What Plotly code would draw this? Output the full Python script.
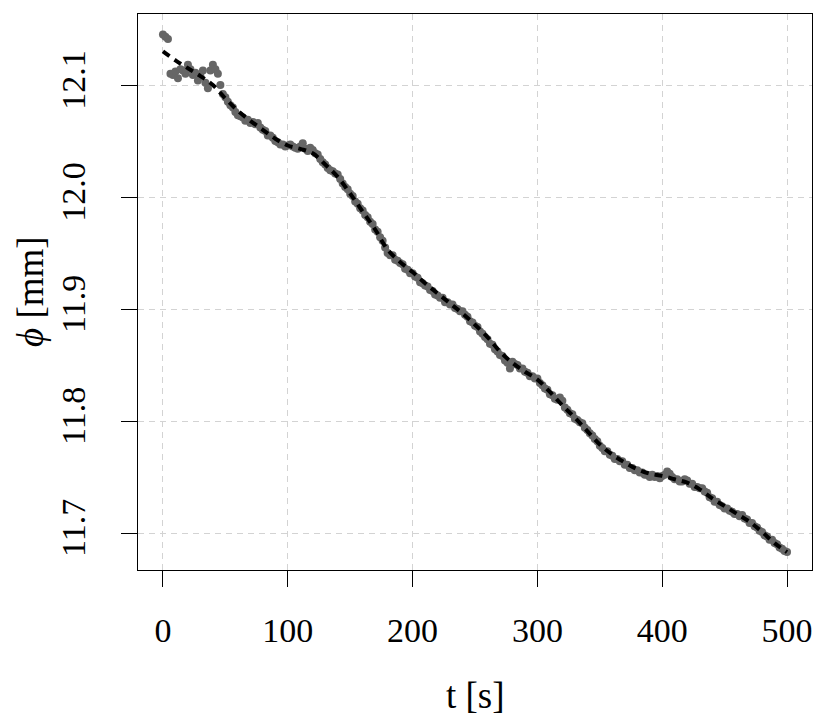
import plotly.graph_objects as go

# Measured data (t in seconds, phi in mm), one reading every 2 s
t_obs = list(range(0, 501, 2))
phi_obs = [
    12.145, 12.143, 12.141, 12.110, 12.109, 12.112, 12.106, 12.114, 12.113, 12.110,
    12.118, 12.114, 12.109, 12.111, 12.104, 12.108, 12.113, 12.102, 12.097, 12.113,
    12.118, 12.114, 12.110, 12.100, 12.092, 12.089, 12.085, 12.082, 12.080, 12.076,
    12.073, 12.072, 12.071, 12.068, 12.069, 12.066, 12.067, 12.065, 12.066, 12.062,
    12.060, 12.059, 12.055, 12.055, 12.053, 12.050, 12.049, 12.047, 12.047, 12.045,
    12.046, 12.047, 12.045, 12.044, 12.043, 12.045, 12.048, 12.043, 12.041, 12.044,
    12.042, 12.039, 12.038, 12.034, 12.031, 12.029, 12.026, 12.024, 12.023, 12.021,
    12.020, 12.016, 12.012, 12.009, 12.007, 12.003, 12.001, 11.996, 11.994, 11.990,
    11.988, 11.984, 11.982, 11.978, 11.976, 11.971, 11.969, 11.964, 11.961, 11.955,
    11.950, 11.948, 11.948, 11.944, 11.943, 11.941, 11.940, 11.936, 11.935, 11.932,
    11.932, 11.929, 11.928, 11.924, 11.923, 11.921, 11.920, 11.917, 11.916, 11.913,
    11.912, 11.910, 11.910, 11.906, 11.906, 11.904, 11.904, 11.901, 11.900, 11.898,
    11.898, 11.895, 11.893, 11.889, 11.888, 11.885, 11.884, 11.880, 11.878, 11.875,
    11.873, 11.869, 11.868, 11.864, 11.862, 11.859, 11.858, 11.854, 11.852, 11.847,
    11.853, 11.851, 11.850, 11.847, 11.847, 11.844, 11.843, 11.840, 11.840, 11.838,
    11.838, 11.834, 11.832, 11.829, 11.828, 11.824, 11.823, 11.820, 11.819, 11.821,
    11.818, 11.812, 11.810, 11.807, 11.806, 11.802, 11.801, 11.799, 11.798, 11.794,
    11.792, 11.789, 11.787, 11.784, 11.782, 11.778, 11.776, 11.773, 11.773, 11.770,
    11.769, 11.766, 11.766, 11.764, 11.764, 11.761, 11.761, 11.758, 11.758, 11.756,
    11.756, 11.754, 11.754, 11.752, 11.752, 11.750, 11.752, 11.750, 11.751, 11.749,
    11.751, 11.752, 11.755, 11.753, 11.750, 11.748, 11.748, 11.746, 11.746, 11.748,
    11.747, 11.744, 11.744, 11.741, 11.741, 11.740, 11.740, 11.737, 11.736, 11.732,
    11.731, 11.728, 11.728, 11.725, 11.724, 11.722, 11.722, 11.720, 11.719, 11.717,
    11.717, 11.715, 11.716, 11.713, 11.712, 11.709, 11.709, 11.706, 11.705, 11.702,
    11.701, 11.698, 11.697, 11.694, 11.694, 11.691, 11.690, 11.687, 11.686, 11.684,
    11.683,
]

# Smoothed fit
t_fit = list(range(0, 501, 10))
phi_fit = [
    12.130, 12.122, 12.115, 12.108, 12.100, 12.088, 12.077, 12.068, 12.060, 12.052,
    12.046, 12.043, 12.039, 12.029, 12.018, 12.003, 11.987, 11.971, 11.953, 11.942,
    11.933, 11.923, 11.914, 11.905, 11.896, 11.886, 11.875, 11.862, 11.852, 11.844,
    11.837, 11.826, 11.814, 11.803, 11.791, 11.779, 11.770, 11.763, 11.757, 11.753,
    11.751, 11.748, 11.745, 11.739, 11.731, 11.724, 11.717, 11.710, 11.701, 11.691,
    11.683,
]

x_ticks = [0, 100, 200, 300, 400, 500]
y_ticks = [11.7, 11.8, 11.9, 12.0, 12.1]
y_tick_labels = ["11.7", "11.8", "11.9", "12.0", "12.1"]

FONT = "Liberation Serif"
FS = 34
FS_TITLE = 37

fig = go.Figure()
fig.add_trace(go.Scatter(
    x=t_obs, y=phi_obs, mode="markers",
    marker=dict(color="#666666", size=8, line=dict(width=0)),
    showlegend=False,
))
fig.add_trace(go.Scatter(
    x=t_fit, y=phi_fit, mode="lines",
    line=dict(color="black", width=4, dash="8px,6px", shape="spline"),
    showlegend=False,
))

fig.update_layout(
    width=830, height=722,
    margin=dict(l=130, r=26, t=6, b=160),
    paper_bgcolor="white", plot_bgcolor="white",
    font=dict(family=FONT, size=FS, color="black"),
    xaxis=dict(
        range=[-20, 520], tickvals=x_ticks, ticktext=[str(v) for v in x_ticks],
        showline=True, mirror=True, linecolor="black", linewidth=1,
        ticks="outside", ticklen=16, tickcolor="black", tickwidth=1,
        showgrid=True, gridcolor="#d3d3d3", gridwidth=1, griddash="6px,5px",
        zeroline=False, ticklabelstandoff=14,
    ),
    yaxis=dict(
        range=[11.667, 12.1634], tickvals=y_ticks, ticktext=y_tick_labels,
        showline=True, mirror=True, linecolor="black", linewidth=1,
        ticks="outside", ticklen=16, tickcolor="black", tickwidth=1,
        showgrid=True, gridcolor="#d3d3d3", gridwidth=1, griddash="6px,5px",
        zeroline=False, tickangle=-90, ticklabelstandoff=22,
    ),
    annotations=[
        dict(text="t [s]", xref="paper", yref="paper", x=0.5, y=0,
             xanchor="center", yanchor="middle",
             yshift=-125, showarrow=False, font=dict(family=FONT, size=FS_TITLE)),
        dict(text="<i>ϕ</i> [mm]", xref="paper", yref="paper", x=0, y=0.5,
             xanchor="center", yanchor="middle",
             xshift=-108, textangle=-90, showarrow=False,
             font=dict(family=FONT, size=FS_TITLE)),
    ],
)

fig.write_html("out.html")
